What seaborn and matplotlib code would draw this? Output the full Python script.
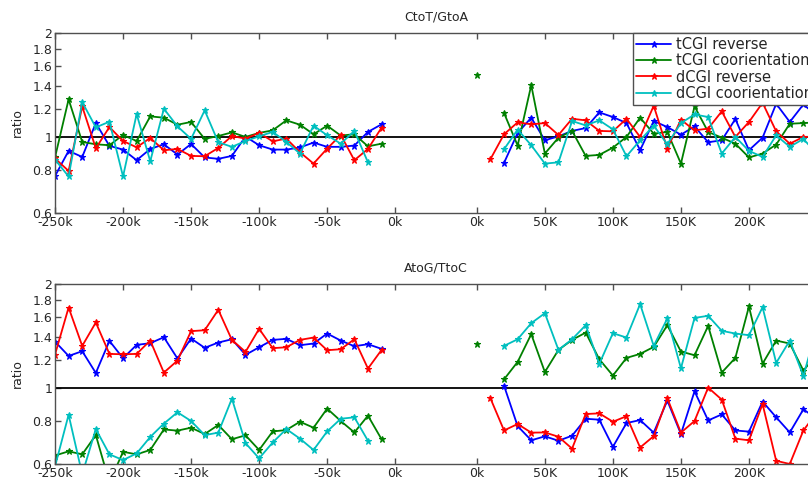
import numpy as np
import pandas as pd
import matplotlib
matplotlib.use("Agg")
import matplotlib.pyplot as plt
from matplotlib.lines import Line2D
import seaborn as sns

# ---------------- data ----------------
series_names = ["tCGI reverse", "tCGI coorientation", "dCGI reverse", "dCGI coorientation"]
series_colors = ["#0000ff", "#008000", "#ff0000", "#00bfbf"]

x_left = [-250, -240, -230, -220, -210, -200, -190, -180, -170, -160, -150, -140, -130,
          -120, -110, -100, -90, -80, -70, -60, -50, -40, -30, -20, -10]
x_right = [0, 10, 20, 30, 40, 50, 60, 70, 80, 90, 100, 110, 120, 130, 140, 150, 160,
           170, 180, 190, 200, 210, 220, 230, 240, 250]
right_offset = 60  # gap between the two halves of the axis (in k)

xtick_pos = [-250, -200, -150, -100, -50, 0, 60, 110, 160, 210, 260]
xtick_labels = ["-250k", "-200k", "-150k", "-100k", "-50k", "0k", "0k", "50K", "100K", "150K", "200K"]
ytick_vals = [0.6, 0.8, 1, 1.2, 1.4, 1.6, 1.8, 2]
ytick_labels = ["0.6", "0.8", "1", "1.2", "1.4", "1.6", "1.8", "2"]

titles = ["CtoT/GtoA", "AtoG/TtoC"]
N = None

# --- CtoT/GtoA ---
ct_left = {
    "tCGI reverse": [0.768, 0.909, 0.873, 1.095, 0.94, 0.917, 0.854, 0.921, 0.95, 0.887, 0.952, 0.87, 0.862,
                     0.879, 1.0, 0.944, 0.917, 0.917, 0.93, 0.961, 0.934, 0.934, 0.942, 1.032, 1.086],
    "tCGI coorientation": [0.87, 1.283, 0.965, 0.95, 0.944, 1.011, 0.971, 1.145, 1.135, 1.083, 1.103, 0.985, 1.004,
                           1.029, 0.998, 1.025, 1.043, 1.115, 1.083, 1.016, 1.076, 1.007, 1.016, 0.937, 0.954],
    "dCGI reverse": [0.864, 0.795, 1.224, 0.925, 1.066, 0.971, 0.931, 0.991, 0.913, 0.921, 0.879, 0.877, 0.927,
                     1.004, 0.987, 1.025, 0.969, 0.987, 0.901, 0.835, 0.923, 1.011, 0.854, 0.921, 1.062],
    "dCGI coorientation": [0.858, 0.766, 1.26, 1.064, 1.105, 0.766, 1.163, 0.848, 1.205, 1.071, 0.985, 1.192, 0.963,
                           0.934, 0.971, 1.002, 1.032, 0.965, 0.893, 1.076, 1.009, 0.954, 1.039, 0.842, N],
}
ct_right = {
    "tCGI reverse": [N, N, 0.839, 1.025, 1.135, 0.976, 1.002, 1.039, 1.059, 1.176, 1.14, 1.095, 0.913, 1.11,
                     1.066, 1.013, 1.071, 0.963, 0.976, 1.125, 0.913, 0.993, 1.246, 1.103, 1.24, 1.15],
    "tCGI coorientation": [1.508, N, 1.171, 0.942, 1.411, 0.893, 0.993, 1.039, 0.879, 0.885, 0.929, 0.998, 1.135, 1.02,
                           1.032, 0.835, 1.224, 1.032, 0.993, 0.954, 0.87, 0.893, 0.948, 1.09, 1.095, 1.1],
    "dCGI reverse": [N, 0.86, 1.016, 1.1, 1.086, 1.095, 1.011, 1.127, 1.115, 1.039, 1.036, 1.127, 0.998, 1.229,
                     0.923, 1.12, 1.043, 1.055, 1.184, 0.998, 1.103, 1.254, 1.036, 0.954, 0.998, 1.0],
    "dCGI coorientation": [N, N, 0.919, 1.048, 0.944, 0.835, 0.842, 1.11, 1.078, 1.115, 1.05, 0.877, 0.976, 1.076,
                           0.95, 1.095, 1.16, 1.14, 0.893, 0.998, 0.909, 0.873, 1.009, 0.934, 0.985, 0.89],
}

# --- AtoG/TtoC ---
ag_left = {
    "tCGI reverse": [1.361, 1.236, 1.276, 1.103, 1.367, 1.217, 1.331, 1.346, 1.401, 1.215, 1.389, 1.305, 1.352,
                     1.382, 1.245, 1.31, 1.376, 1.386, 1.328, 1.343, 1.436, 1.37, 1.319, 1.337, 1.296],
    "tCGI coorientation": [0.635, 0.653, 0.64, 0.728, 0.53, 0.651, 0.64, 0.659, 0.756, 0.75, 0.765, 0.733, 0.779,
                           0.708, 0.727, 0.659, 0.746, 0.753, 0.796, 0.765, 0.869, 0.8, 0.741, 0.829, 0.708],
    "dCGI reverse": [1.247, 1.709, 1.322, 1.546, 1.253, 1.25, 1.253, 1.37, 1.106, 1.198, 1.459, 1.468, 1.683,
                     1.376, 1.27, 1.482, 1.302, 1.31, 1.376, 1.398, 1.284, 1.293, 1.382, 1.136, 1.287],
    "dCGI coorientation": [0.59, 0.834, 0.56, 0.758, 0.64, 0.616, 0.644, 0.719, 0.786, 0.848, 0.8, 0.728, 0.74,
                           0.929, 0.69, 0.623, 0.693, 0.758, 0.711, 0.659, 0.746, 0.812, 0.82, 0.701, N],
}
ag_right = {
    "tCGI reverse": [N, N, 1.013, 0.773, 0.703, 0.722, 0.701, 0.725, 0.812, 0.807, 0.673, 0.789, 0.805, 0.74,
                     0.917, 0.733, 0.976, 0.803, 0.836, 0.751, 0.745, 0.911, 0.82, 0.741, 0.865, 0.81],
    "tCGI coorientation": [1.337, N, 1.057, 1.188, 1.43, 1.11, 1.287, 1.376, 1.445, 1.209, 1.084, 1.22, 1.253, 1.313,
                           1.518, 1.273, 1.242, 1.511, 1.106, 1.22, 1.721, 1.174, 1.37, 1.343, 1.121, 1.25],
    "dCGI reverse": [N, 0.931, 0.751, 0.784, 0.74, 0.741, 0.72, 0.665, 0.838, 0.842, 0.796, 0.826, 0.67, 0.723,
                     0.931, 0.74, 0.8, 1.0, 0.923, 0.711, 0.703, 0.896, 0.613, 0.6, 0.751, 0.848],
    "dCGI coorientation": [N, N, 1.322, 1.382, 1.539, 1.645, 1.287, 1.382, 1.518, 1.172, 1.439, 1.398, 1.748, 1.322,
                           1.588, 1.138, 1.594, 1.617, 1.462, 1.436, 1.42, 1.713, 1.18, 1.37, 1.081, 1.5],
}


def build_frame(left, right):
    rows = []
    seg = 0
    for name in series_names:
        for xs, vals, off in ((x_left, left[name], 0), (x_right, right[name], right_offset)):
            prev_nan = True
            for x, v in zip(xs, vals):
                if v is None:
                    prev_nan = True
                    continue
                if prev_nan:
                    seg += 1
                    prev_nan = False
                rows.append({"series": name, "pos": x + off, "ratio": v, "seg": seg})
    return pd.DataFrame(rows)


frames = [build_frame(ct_left, ct_right), build_frame(ag_left, ag_right)]

# ---------------- style ----------------
sns.set_style("white")
plt.rcParams["font.family"] = ["DejaVu Sans"]
plt.rcParams["axes.edgecolor"] = "#505050"
plt.rcParams["axes.linewidth"] = 1.0

W, H = 808, 479
fig = plt.figure(figsize=(W / 100, H / 100), dpi=100)

ax_left_px, ax_right_px = 55, 817
panel_px = [(33, 213), (284, 464)]
palette = dict(zip(series_names, series_colors))
MS = 5.0
MEW = 0.8

for i, (top, bot) in enumerate(panel_px):
    ax = fig.add_axes([ax_left_px / W, 1 - bot / H, (ax_right_px - ax_left_px) / W, (bot - top) / H])
    df = frames[i]
    sns.lineplot(data=df, x="pos", y="ratio", hue="series", units="seg", estimator=None,
                 palette=palette, hue_order=series_names, marker="*", markersize=MS,
                 markeredgewidth=MEW, markeredgecolor="auto", linewidth=1.3, legend=False, ax=ax)
    ax.axhline(1, color="black", linewidth=1.3, zorder=1)
    ax.set_yscale("log")
    ax.set_ylim(0.6, 2)
    ax.set_xlim(-250, 310)
    ax.set_yticks(ytick_vals)
    ax.set_yticklabels(ytick_labels)
    ax.yaxis.set_minor_locator(matplotlib.ticker.NullLocator())
    ax.set_xticks(xtick_pos)
    ax.set_xticklabels(xtick_labels)
    ax.tick_params(axis="both", direction="in", length=4, width=1, color="#505050",
                   labelsize=9, pad=2, top=True, right=True, bottom=True, left=True)
    ax.set_xlabel("")
    ax.set_ylabel("ratio", fontsize=9, labelpad=6)
    ax.set_title(titles[i], fontsize=9, pad=9)
    if i == 0:
        handles = [Line2D([], [], color=c, marker="*", markersize=MS, markeredgewidth=MEW,
                          markeredgecolor=c, linewidth=1.3)
                   for c in series_colors]
        leg = ax.legend(handles, series_names, loc="upper right", fontsize=10.5, frameon=True,
                        fancybox=False, framealpha=1, edgecolor="#505050", borderaxespad=0.0,
                        handlelength=2.4, labelspacing=0.1, borderpad=0.25, handletextpad=0.35)
        leg.get_frame().set_linewidth(1.0)

fig.savefig("out.png", dpi=100)
